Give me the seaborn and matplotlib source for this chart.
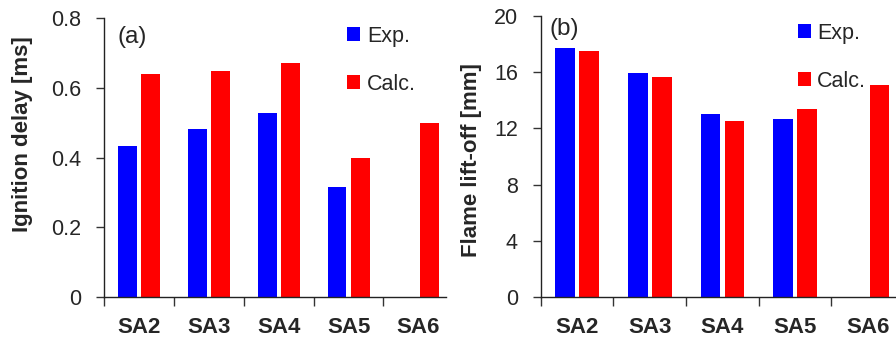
import pandas as pd
import numpy as np
import matplotlib
matplotlib.use('Agg')
import matplotlib.pyplot as plt
import seaborn as sns
from matplotlib.patches import Patch

sns.set_style("ticks")
plt.rcParams['font.family'] = ['Liberation Sans', 'DejaVu Sans']

# data
cases = ['SA2', 'SA3', 'SA4', 'SA5', 'SA6']
series = ['Exp.', 'Calc.']
ign_exp = [0.434, 0.483, 0.527, 0.315, np.nan]
ign_calc = [0.639, 0.648, 0.670, 0.399, 0.499]
lift_exp = [17.71, 15.91, 13.0, 12.66, np.nan]
lift_calc = [17.52, 15.63, 12.5, 13.37, 15.06]
ign_ticks = [0, 0.2, 0.4, 0.6, 0.8]
ign_ticklabels = ['0', '0.2', '0.4', '0.6', '0.8']
lift_ticks = [0, 4, 8, 12, 16, 20]

colors = {'Exp.': '#0000ff', 'Calc.': '#ff0000'}
fs = 15.5


def long_df(exp, calc):
    d = pd.DataFrame({'case': cases * 2,
                      'series': ['Exp.'] * len(cases) + ['Calc.'] * len(cases),
                      'value': list(exp) + list(calc)})
    return d.dropna()


fig = plt.figure(figsize=(8.96, 3.4), dpi=100)
ax_a = fig.add_axes([0.1161, 0.1256, 0.3813, 0.8215])
ax_b = fig.add_axes([0.6035, 0.1256, 0.3965, 0.8282])

panels = [
    (ax_a, long_df(ign_exp, ign_calc), 'Ignition delay [ms]', (0, 0.8), ign_ticks, ign_ticklabels,
     '(a)', (0.038, 0.933), (-0.209, 0.584), (0.700, 0.988)),
    (ax_b, long_df(lift_exp, lift_calc), 'Flame lift-off [mm]', (0, 20), lift_ticks,
     [str(t) for t in lift_ticks], '(b)', (0.026, 0.953), (-0.165, 0.489), (0.712, 0.990)),
]

for ax, d, ylab, ylim, yt, ytl, tag, tagpos, labpos, legpos in panels:
    sns.barplot(data=d, x='case', y='value', hue='series', order=cases, hue_order=series,
                palette=colors, width=0.66, gap=0.18, errorbar=None, saturation=1,
                linewidth=0, ax=ax, legend=False)
    ax.set_xlim(-0.5, 4.39)
    ax.set_ylim(*ylim)
    ax.set_yticks(yt)
    ax.set_yticklabels(ytl, fontsize=fs)
    ax.set_xticks(range(len(cases)))
    ax.set_xticklabels(cases, fontsize=fs + 0.5, fontweight='bold')
    ax.set_xticks(np.arange(-0.5, 4.4, 1.0), minor=True)
    ax.tick_params(axis='x', which='major', length=0, pad=14)
    ax.tick_params(axis='x', which='minor', length=6.5, width=1, color='#333333')
    ax.tick_params(axis='y', length=6, width=1, color='#333333', pad=10.5)
    ax.set_xlabel('')
    ax.set_ylabel(ylab, fontsize=fs + 0.5, fontweight='bold')
    ax.yaxis.set_label_coords(*labpos)
    sns.despine(ax=ax)
    for s in ['left', 'bottom']:
        ax.spines[s].set_linewidth(1)
        ax.spines[s].set_color('#222222')
    ax.text(tagpos[0], tagpos[1], tag, transform=ax.transAxes, fontsize=17.5,
            ha='left', va='center')
    handles = [Patch(facecolor=colors[s], edgecolor='none', label=s) for s in series]
    ax.legend(handles=handles, loc='upper left', bbox_to_anchor=legpos, frameon=False,
              fontsize=fs, handlelength=0.6, handleheight=0.6, handletextpad=0.3,
              labelspacing=1.25, borderpad=0.2, borderaxespad=0)

fig.savefig('out.png', dpi=100)
